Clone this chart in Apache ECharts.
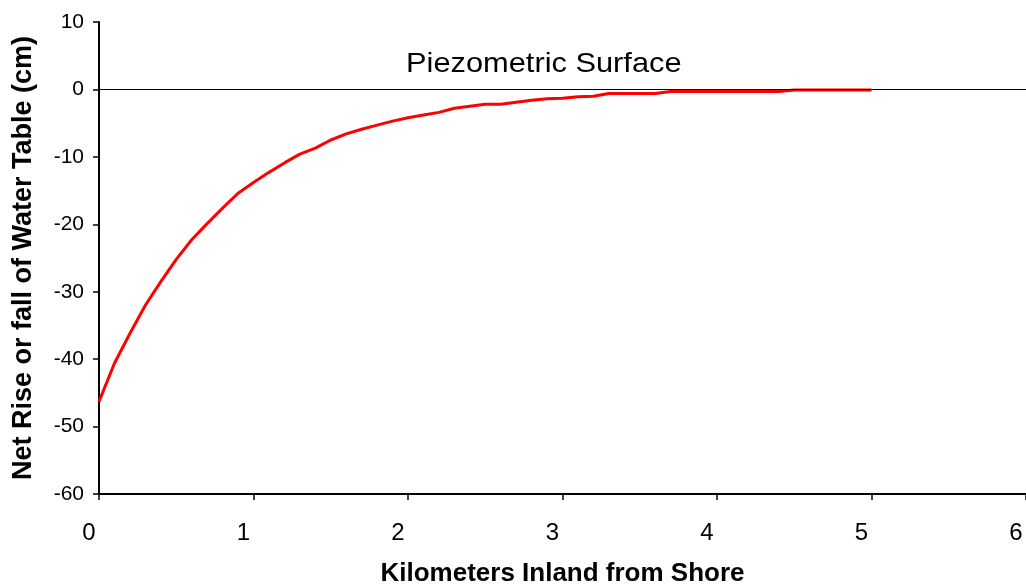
<!DOCTYPE html>
<html>
<head>
<meta charset="utf-8">
<script src="https://cdn.jsdelivr.net/npm/echarts@6/dist/echarts.min.js"></script>
<style>
html,body{margin:0;padding:0;background:#fff;}
#chart{width:1026px;height:588px;}
</style>
</head>
<body>
<div id="chart"></div>
<script>
const kmInland = [0.0,0.1,0.2,0.3,0.4,0.5,0.6,0.7,0.8,0.9,1.0,1.1,1.2,1.3,1.4,1.5,1.6,1.7,1.8,1.9,2.0,2.1,2.2,2.3,2.4,2.5,2.6,2.7,2.8,2.9,3.0,3.1,3.2,3.3,3.4,3.5,3.6,3.7,3.8,3.9,4.0,4.1,4.2,4.3,4.4,4.5,4.6,4.7,4.8,4.9,5.0];
const netRise = [-46.3,-40.6,-36.2,-32.0,-28.5,-25.2,-22.3,-19.9,-17.6,-15.4,-13.8,-12.3,-10.9,-9.6,-8.7,-7.5,-6.6,-5.9,-5.3,-4.7,-4.2,-3.8,-3.4,-2.8,-2.5,-2.2,-2.2,-1.9,-1.6,-1.4,-1.3,-1.1,-1.0,-0.6,-0.6,-0.6,-0.6,-0.3,-0.3,-0.3,-0.3,-0.3,-0.3,-0.3,-0.3,-0.1,-0.1,-0.1,-0.1,-0.1,-0.1];
const surfaceLevel = 0;
const surfaceLabel = 'Piezometric Surface';
const xTitle = 'Kilometers Inland from Shore';
const yTitle = 'Net Rise or fall of Water Table (cm)';

const chart = echarts.init(document.getElementById('chart'), null, {renderer:'canvas'});
const font = '"Liberation Sans", Arial, sans-serif';
chart.setOption({
  animation:false,
  backgroundColor:'#fff',
  grid:{left:99,right:0,top:22,bottom:94,containLabel:false,outerBoundsMode:'none'},
  xAxis:{
    type:'value',min:0,max:6,interval:1,
    name:xTitle,nameLocation:'middle',nameGap:67,
    nameTextStyle:{fontFamily:font,fontSize:26,fontWeight:'bold',color:'#000'},
    axisLine:{show:true,onZero:false,lineStyle:{color:'#000',width:2}},
    axisTick:{show:true,length:6,lineStyle:{color:'#000',width:1.5}},
    axisLabel:{fontFamily:font,fontSize:24,color:'#000',margin:27,padding:[0,20,0,0],showMaxLabel:true},
    splitLine:{show:false}
  },
  yAxis:{
    type:'value',min:-60,max:10,interval:10,
    name:yTitle,nameLocation:'middle',nameGap:62,nameRotate:90,
    nameTextStyle:{fontFamily:font,fontSize:27,fontWeight:'bold',color:'#000'},
    axisLine:{show:true,onZero:false,lineStyle:{color:'#000',width:2}},
    axisTick:{show:true,length:6,lineStyle:{color:'#000',width:1.5}},
    axisLabel:{fontFamily:font,fontSize:21,color:'#000',margin:15},
    splitLine:{show:false}
  },
  graphic:[{
    type:'text',x:406,y:64,scaleX:1.1,
    style:{text:surfaceLabel,font:'28px "Liberation Sans", Arial, sans-serif',fill:'#000',verticalAlign:'middle',align:'left'}
  }],
  series:[{
    type:'line',
    data:kmInland.map((x,i)=>[x,netRise[i]]),
    showSymbol:false,
    lineStyle:{color:'#ff0000',width:3},
    itemStyle:{color:'#ff0000'},
    markLine:{
      silent:true,symbol:['none','none'],
      label:{show:false},
      lineStyle:{color:'#000',width:1.2,type:'solid'},
      data:[{yAxis:surfaceLevel}]
    },
    z:3
  }]
});
</script>
</body>
</html>
